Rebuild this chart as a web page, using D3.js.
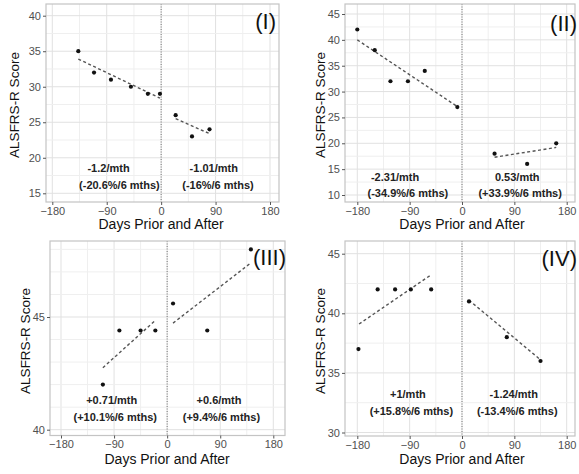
<!DOCTYPE html>
<html>
<head>
<meta charset="utf-8">
<script src="https://cdn.jsdelivr.net/npm/d3@7"></script>
<style>
  html, body { margin: 0; padding: 0; background: #fff; }
  svg { display: block; font-family: "Liberation Sans", Arial, sans-serif; }
</style>
</head>
<body>
<svg id="chart" width="579" height="474"></svg>
<script>
// ---------------- data ----------------
const panelLabels = ["(I)", "(II)", "(III)", "(IV)"];
const xTicks = [-180, -90, 0, 90, 180];
const xMinor = [-135, -45, 45, 135];
const yTicks = [[15, 20, 25, 30, 35, 40], [10, 15, 20, 25, 30, 35, 40, 45], [40, 45], [30, 35, 40, 45]];
const yGrid = [[15, 17.5, 20, 22.5, 25, 27.5, 30, 32.5, 35, 37.5, 40],
               [10, 12.5, 15, 17.5, 20, 22.5, 25, 27.5, 30, 32.5, 35, 37.5, 40, 42.5, 45],
               [40, 41, 42, 43, 44, 45, 46, 47, 48],
               [30, 32.5, 35, 37.5, 40, 42.5, 45]];

const preDays   = [[-137, -111, -83, -50, -22, -2], [-180, -150, -123, -93, -64, -8], [-109, -81, -45, -20], [-178, -145, -115, -88, -53]];
const preScores = [[35, 32, 31, 30, 29, 29], [42, 38, 32, 32, 34, 27], [42, 44.4, 44.4, 44.4], [37, 42, 42, 42, 42]];
const postDays   = [[24, 51, 80], [56, 112, 162], [10, 68, 142], [12, 77, 135]];
const postScores = [[26, 23, 24], [18, 16, 20], [45.6, 44.4, 48], [41, 38, 36]];

const preTrendDays   = [[-137, -2], [-180, -8], [-109, -20], [-177, -54]];
const preTrendScores = [[33.9, 28.4], [40, 27.1], [42.75, 44.85], [39.1, 43.2]];
const postTrendDays   = [[24, 80], [56, 162], [10, 142], [12, 135]];
const postTrendScores = [[25.5, 23.4], [17.3, 19.2], [44.73, 47.4], [41.1, 36.1]];

const preRate  = ["-1.2/mth", "-2.31/mth", "+0.71/mth", "+1/mth"];
const prePct   = ["(-20.6%/6 mths)", "(-34.9%/6 mths)", "(+10.1%/6 mths)", "(+15.8%/6 mths)"];
const postRate = ["-1.01/mth", "0.53/mth", "+0.6/mth", "-1.24/mth"];
const postPct  = ["(-16%/6 mths)", "(+33.9%/6 mths)", "(+9.4%/6 mths)", "(-13.4%/6 mths)"];

const xTitle = "Days Prior and After";
const yTitle = "ALSFRS-R Score";

// ---------------- layout ----------------
const layout = [
  { rect: [46, 4, 279, 202],  xr: [52.3, 270],   yd: [40, 15], yr: [15.7, 193.3],
    lab: [276, 29], note: [[-87, -69, 87, 94], [172, 189]], xt: 228.5, yt: [19, 105] },
  { rect: [345, 4, 575, 202], xr: [357.3, 566.7], yd: [45, 10], yr: [14, 195],
    lab: [577, 31], note: [[-115, -93, 95, 100], [181, 197]], xt: 229, yt: [325, 105] },
  { rect: [50, 241, 285, 435.5], xr: [61, 273.3],  yd: [45, 40], yr: [317, 429.7],
    lab: [286, 265], note: [[-94, -88, 88, 92], [403.5, 420.5]], xt: 464, yt: [30, 341] },
  { rect: [345, 241, 575, 436], xr: [357.3, 566.7], yd: [45, 30], yr: [253.7, 432.5],
    lab: [577, 266], note: [[-93, -87, 89, 95], [398, 415]], xt: 464, yt: [325, 341] }
];

const svg = d3.select("#chart");

layout.forEach((L, i) => {
  const [l, t, r, b] = L.rect;
  const x = d3.scaleLinear().domain([-180, 180]).range(L.xr);
  const y = d3.scaleLinear().domain(L.yd).range(L.yr);
  const g = svg.append("g");

  // grid
  const clip = "clip" + i;
  svg.append("clipPath").attr("id", clip).append("rect")
    .attr("x", l).attr("y", t).attr("width", r - l).attr("height", b - t);
  const grid = g.append("g").attr("clip-path", `url(#${clip})`);
  grid.selectAll(".vmin").data(xMinor).join("line")
    .attr("x1", d => x(d)).attr("x2", d => x(d)).attr("y1", t).attr("y2", b)
    .attr("stroke", "#efefef").attr("stroke-width", 1);
  grid.selectAll(".vmaj").data(xTicks).join("line")
    .attr("x1", d => x(d)).attr("x2", d => x(d)).attr("y1", t).attr("y2", b)
    .attr("stroke", "#e1e1e1").attr("stroke-width", 1);
  grid.selectAll(".hg").data(yGrid[i]).join("line")
    .attr("x1", l).attr("x2", r).attr("y1", d => y(d)).attr("y2", d => y(d))
    .attr("stroke", d => yTicks[i].includes(d) ? "#e1e1e1" : "#efefef").attr("stroke-width", 1);

  // zero line
  g.append("line").attr("x1", x(0)).attr("x2", x(0)).attr("y1", t).attr("y2", b)
    .attr("stroke", "#777").attr("stroke-width", 1).attr("stroke-dasharray", "1,1.5");

  // border
  g.append("rect").attr("x", l).attr("y", t).attr("width", r - l).attr("height", b - t)
    .attr("fill", "none").attr("stroke", "#c4c4c4").attr("stroke-width", 1.2);

  // axes
  const xAxis = d3.axisBottom(x).tickValues(xTicks).tickSize(3).tickPadding(2).tickFormat(d3.format("d"));
  const xa = g.append("g").attr("transform", `translate(0,${b})`).call(xAxis);
  const yAxis = d3.axisLeft(y).tickValues(yTicks[i]).tickSize(3).tickPadding(2).tickFormat(d3.format("d"));
  const ya = g.append("g").attr("transform", `translate(${l},0)`).call(yAxis);
  [xa, ya].forEach(a => {
    a.select(".domain").remove();
    a.selectAll(".tick line").attr("stroke", "#555");
    a.selectAll(".tick text").attr("fill", "#505050").attr("font-size", 11)
      .attr("font-family", "Liberation Sans, Arial, sans-serif");
  });

  // trend lines
  const line = d3.line().x(d => x(d[0])).y(d => y(d[1]));
  [[preTrendDays[i], preTrendScores[i]], [postTrendDays[i], postTrendScores[i]]].forEach(([ds, ss]) => {
    g.append("path").datum(ds.map((d, k) => [d, ss[k]])).attr("d", line)
      .attr("fill", "none").attr("stroke", "#555").attr("stroke-width", 1.4)
      .attr("stroke-dasharray", "3,2.5");
  });

  // points
  const pts = preDays[i].map((d, k) => [d, preScores[i][k]])
    .concat(postDays[i].map((d, k) => [d, postScores[i][k]]));
  g.selectAll(".pt").data(pts).join("circle")
    .attr("cx", d => x(d[0])).attr("cy", d => y(d[1])).attr("r", 2.1).attr("fill", "#111");

  // annotations
  const nt = L.note;
  const notes = [[preRate[i], nt[0][0], nt[1][0]], [prePct[i], nt[0][1], nt[1][1]],
                 [postRate[i], nt[0][2], nt[1][0]], [postPct[i], nt[0][3], nt[1][1]]];
  g.selectAll(".note").data(notes).join("text")
    .attr("x", d => x(d[1])).attr("y", d => d[2]).attr("text-anchor", "middle")
    .attr("font-size", 11).attr("font-weight", "bold").attr("fill", "#222")
    .text(d => d[0]);

  // panel label
  g.append("text").attr("x", L.lab[0]).attr("y", L.lab[1]).attr("text-anchor", "end")
    .attr("font-size", 22).attr("fill", "#111").text(panelLabels[i]);

  // axis titles
  g.append("text").attr("x", x(0)).attr("y", L.xt).attr("text-anchor", "middle")
    .attr("font-size", 14).attr("fill", "#111").text(xTitle);
  g.append("text").attr("transform", `translate(${L.yt[0]},${L.yt[1]}) rotate(-90)`)
    .attr("text-anchor", "middle").attr("font-size", 13.5).attr("fill", "#111").text(yTitle);
});
</script>
</body>
</html>
